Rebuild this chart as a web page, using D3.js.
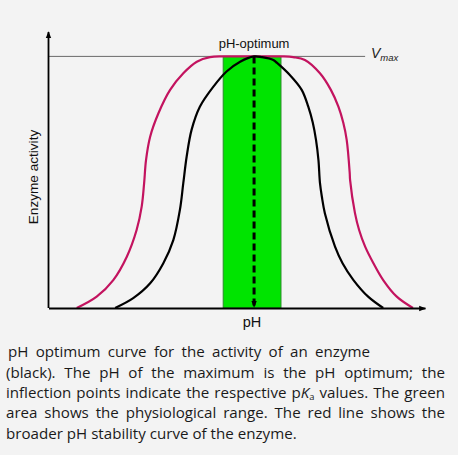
<!DOCTYPE html>
<html>
<head>
<meta charset="utf-8">
<script src="https://cdn.jsdelivr.net/npm/d3@7/dist/d3.min.js"></script>
<style>
  html, body { margin: 0; padding: 0; background: #f3f3f3; }
  svg { display: block; }
</style>
</head>
<body>
<svg id="chart" width="458" height="455"></svg>
<script>
// ---- data (x in arbitrary pH units 0..100, y as fraction of Vmax) ----
const redCurve = [
  [7.5, 0], [12.8, 0.045], [17.2, 0.111], [20.8, 0.204], [23.4, 0.310], [24.75, 0.403],
  [25.4, 0.496], [25.9, 0.588], [27.0, 0.681], [29.2, 0.774], [32.3, 0.867],
  [35.8, 0.933], [39.4, 0.979], [42.9, 0.997], [46.4, 1.0],
  [54.0, 1.0],
  [62.3, 1.0], [65.0, 0.997], [68.1, 0.986], [72.1, 0.933], [75.0, 0.867],
  [77.0, 0.800], [78.3, 0.736], [79.2, 0.668], [80.0, 0.537], [80.1, 0.509],
  [81.4, 0.377], [82.5, 0.310], [84.1, 0.244], [86.3, 0.178], [88.9, 0.111],
  [92.5, 0.045], [96.8, 0]
];
const blackCurve = [
  [17.7, 0], [22.5, 0.039], [27.0, 0.098], [30.5, 0.178], [33.15, 0.270], [34.9, 0.390],
  [35.8, 0.496], [36.7, 0.602], [38.0, 0.708], [40.2, 0.800], [43.8, 0.880],
  [47.3, 0.940], [50.9, 0.979], [54.6, 1.0],
  [56.7, 0.997], [59.7, 0.986], [60.7, 0.974], [64.1, 0.926], [67.25, 0.867],
  [69.0, 0.800], [70.2, 0.736], [71.05, 0.668], [71.7, 0.588], [72.1, 0.497],
  [72.6, 0.443], [73.4, 0.377], [76.1, 0.244], [78.1, 0.178], [81.0, 0.111],
  [84.9, 0.045], [88.9, 0]
];
const physioRange = [46.4, 61.75];
const optimumPH = 54.6;
const vmax = 1.0;
const vmaxLineEnd = 84.1;
const xDomain = [0, 100];
const yDomain = [0, 1.097];

const labels = {
  x: "pH",
  y: "Enzyme activity",
  optimum: "pH-optimum",
  vmaxMain: "V",
  vmaxSub: "max"
};

const captionLines = [
  { words: "pH optimum curve for the activity of an enzyme", justify: true },
  { words: "(black). The pH of the maximum is the pH optimum; the", justify: true },
  { words: "inflection points indicate the respective pKa values. The green", justify: true },
  { words: "area shows the physiological range. The red line shows the", justify: true },
  { words: "broader pH stability curve of the enzyme.", justify: false }
];

// ---- drawing ----
const svg = d3.select("#chart");
svg.append("rect").attr("width", 458).attr("height", 455).attr("fill", "#f3f3f3");

const x = d3.scaleLinear().domain(xDomain).range([48.5, 425]);
const y = d3.scaleLinear().domain(yDomain).range([308, 32]);

const defs = svg.append("defs");
defs.append("marker")
  .attr("id", "arr").attr("viewBox", "0 0 10 10")
  .attr("refX", 9).attr("refY", 5)
  .attr("markerWidth", 7).attr("markerHeight", 7)
  .attr("markerUnits", "userSpaceOnUse")
  .attr("orient", "auto")
  .append("path").attr("d", "M0,1 L10,5 L0,9 Z").attr("fill", "#000");

// green physiological range
svg.append("rect")
  .attr("x", x(physioRange[0]))
  .attr("y", y(vmax))
  .attr("width", x(physioRange[1]) - x(physioRange[0]))
  .attr("height", y(0) - y(vmax))
  .attr("fill", "#00e400")
  .attr("stroke", "#2c8a2c")
  .attr("stroke-width", 1);

// Vmax line
svg.append("line")
  .attr("x1", x(0)).attr("x2", x(vmaxLineEnd))
  .attr("y1", y(vmax)).attr("y2", y(vmax))
  .attr("stroke", "#6a6a6a").attr("stroke-width", 1);

const line = d3.line().x(d => x(d[0])).y(d => y(d[1])).curve(d3.curveCatmullRom.alpha(0.5));

svg.append("path").datum(redCurve)
  .attr("d", line).attr("fill", "none")
  .attr("stroke", "#c3135f").attr("stroke-width", 2.2);

svg.append("path").datum(blackCurve)
  .attr("d", line).attr("fill", "none")
  .attr("stroke", "#000").attr("stroke-width", 2.2);

// dashed optimum line
svg.append("line")
  .attr("x1", x(optimumPH)).attr("x2", x(optimumPH))
  .attr("y1", y(vmax)).attr("y2", y(0) - 1)
  .attr("stroke", "#000").attr("stroke-width", 3)
  .attr("stroke-dasharray", "7,4")
  .attr("marker-end", "url(#arr)");

// axes
const xAxis = svg.append("g").attr("transform", `translate(0,${y(0)})`)
  .call(d3.axisBottom(x).ticks(0).tickSizeOuter(0));
xAxis.select(".domain").attr("stroke", "#000").attr("stroke-width", 1.8)
  .attr("marker-end", "url(#arr)");
const yAxis = svg.append("g").attr("transform", `translate(${x(0)},0)`)
  .call(d3.axisLeft(y).ticks(0).tickSizeOuter(0));
yAxis.select(".domain").attr("stroke", "#000").attr("stroke-width", 1.8)
  .attr("d", `M0,${y(0)}V${y(yDomain[1])}`)
  .attr("marker-end", "url(#arr)");

// labels
const sans = "'Liberation Sans', Arial, sans-serif";
svg.append("text").attr("x", x(optimumPH)).attr("y", 48)
  .attr("text-anchor", "middle").attr("font-family", sans).attr("font-size", 13)
  .attr("fill", "#111").text(labels.optimum);

svg.append("text").attr("x", x(optimumPH) - 2).attr("y", 327)
  .attr("text-anchor", "middle").attr("font-family", sans).attr("font-size", 14.5)
  .attr("fill", "#111").text(labels.x);

svg.append("text")
  .attr("transform", "translate(38,177) rotate(-90)")
  .attr("text-anchor", "middle").attr("font-family", sans).attr("font-size", 13.6)
  .attr("fill", "#111").text(labels.y);

const vt = svg.append("text").attr("x", 371).attr("y", 58)
  .attr("font-family", sans).attr("font-style", "italic").attr("fill", "#222");
vt.append("tspan").attr("font-size", 14).text(labels.vmaxMain);
vt.append("tspan").attr("font-size", 9.5).attr("dy", 3).text(labels.vmaxSub);

// caption with manual justification
const capFont = "'Open Sans', 'Noto Sans', sans-serif";
const capG = svg.append("g").attr("fill", "#1a1a1a").attr("font-family", capFont);
const baselines = [357, 377.5, 398, 418.3, 438.6];
const lineStart = [8, 6, 6, 6, 6];
const lineEnd = [370, 445, 445, 445, 445];

function makeWord(g, w, fs) {
  const t = g.append("text").attr("font-size", fs);
  if (w === "pKa") {
    t.append("tspan").text("p");
    t.append("tspan").attr("font-style", "italic").text("K");
    t.append("tspan").attr("font-size", fs * 0.62).attr("dy", 2).text("a");
  } else {
    t.text(w);
  }
  return t;
}

let fs = 14;
{
  const probe = capG.append("text").attr("font-size", 14).text(captionLines[4].words);
  const len = probe.node().getComputedTextLength();
  fs = Math.max(11, Math.min(16, 14 * 291 / len));
  probe.remove();
}

captionLines.forEach((ln, i) => {
  const words = ln.words.split(" ");
  const nodes = words.map(w => makeWord(capG, w, fs));
  const widths = nodes.map(n => n.node().getComputedTextLength());
  const total = d3.sum(widths);
  const spaceW = fs * 0.26;
  const gap = ln.justify ? (lineEnd[i] - lineStart[i] - total) / (words.length - 1) : spaceW;
  let cx = lineStart[i];
  nodes.forEach((n, k) => {
    n.attr("x", cx).attr("y", baselines[i]);
    cx += widths[k] + gap;
  });
});
</script>
</body>
</html>
